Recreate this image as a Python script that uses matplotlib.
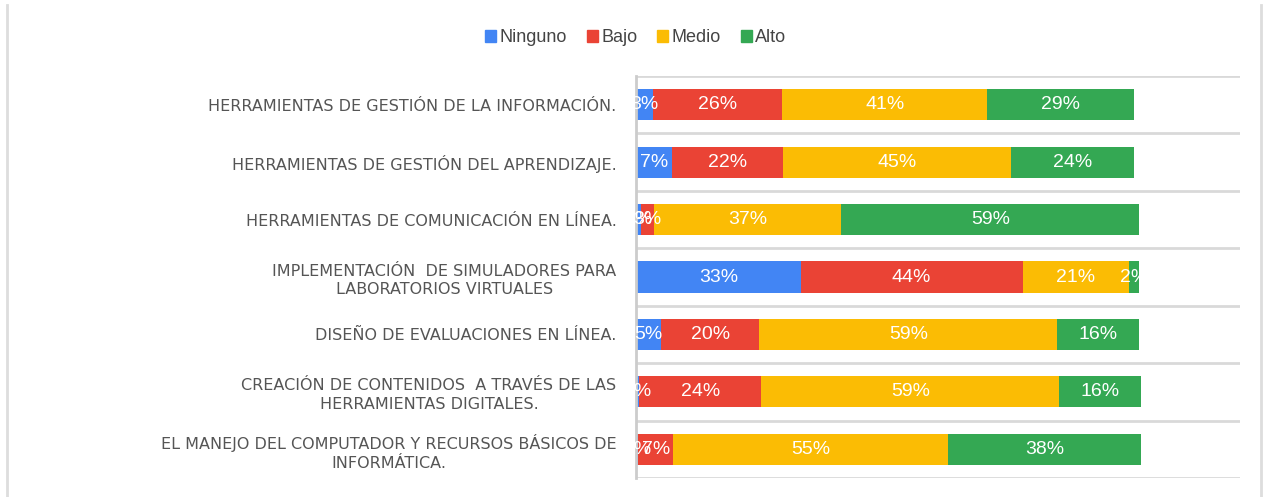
import matplotlib
matplotlib.use("Agg")
from matplotlib import pyplot as plt
from matplotlib.lines import Line2D
from matplotlib.patches import Patch
import numpy as np

categories = [
    "HERRAMIENTAS DE GESTIÓN DE LA INFORMACIÓN.",
    "HERRAMIENTAS DE GESTIÓN DEL APRENDIZAJE.",
    "HERRAMIENTAS DE COMUNICACIÓN EN LÍNEA.",
    "IMPLEMENTACIÓN  DE SIMULADORES PARA\nLABORATORIOS VIRTUALES",
    "DISEÑO DE EVALUACIONES EN LÍNEA.",
    "CREACIÓN DE CONTENIDOS  A TRAVÉS DE LAS\nHERRAMIENTAS DIGITALES.",
    "EL MANEJO DEL COMPUTADOR Y RECURSOS BÁSICOS DE\nINFORMÁTICA.",
]
series = ["Ninguno", "Bajo", "Medio", "Alto"]
ninguno = [3.4, 7.1, 1.0, 32.7, 5.0, 0.6, 0.4]
bajo = [25.6, 22.1, 2.6, 44.1, 19.5, 24.3, 7.0]
medio = [40.8, 45.4, 37.2, 21.1, 59.2, 59.2, 54.6]
alto = [29.1, 24.3, 59.2, 2.1, 16.3, 16.3, 38.4]
colors = ["#4285F4", "#EA4335", "#FBBC04", "#34A853"]

fig = plt.figure(figsize=(12.64, 4.97), dpi=100)
ax = fig.add_axes([636 / 1264, 1 - 478 / 497, (1240 - 636) / 1264, (478 - 76) / 497])

y = np.arange(len(categories))
left = np.zeros(len(categories))
for name, vals, col in zip(series, [ninguno, bajo, medio, alto], colors):
    bars = ax.barh(y, vals, left=left, height=0.54, color=col, label=name)
    labels = ax.bar_label(bars, labels=[f"{round(v)}%" for v in vals],
                          label_type="center", color="white",
                          family="Liberation Sans", fontsize=14)
    for t in labels:
        t.set_clip_on(True)
    left += np.array(vals)

ax.set_xlim(0, 120)
ax.set_ylim(len(categories) - 0.5, -0.5)
ax.set_xticks([])
ax.set_yticks(y)
ax.set_yticklabels(categories, fontsize=11.5, color="#555555",
                   family="DejaVu Sans", multialignment="center",
                   linespacing=1.3)
ax.tick_params(axis="y", length=0, pad=14)
ax.set_yticks(np.arange(-0.5, len(categories)), minor=True)
ax.tick_params(axis="y", which="minor", length=0)
ax.grid(axis="y", which="minor", color="#d9d9d9", linewidth=2)
ax.set_axisbelow(True)
for s in ["top", "right", "bottom"]:
    ax.spines[s].set_visible(False)
ax.spines["left"].set_color("#cccccc")
ax.spines["left"].set_linewidth(2)

handles = [Patch(color=c) for c in colors]
fig.legend(handles, series, loc="center", bbox_to_anchor=(0.503, 0.924),
           ncol=4, frameon=False, handlelength=0.6, handleheight=0.6,
           handletextpad=0.2, columnspacing=1.1,
           prop={"family": "Liberation Sans", "size": 13},
           labelcolor="#444444")

# light frame around the chart
fig.add_artist(Line2D([7 / 1264, 7 / 1264], [0, 1 - 5 / 497], color="#dddddd", lw=2))
fig.add_artist(Line2D([1261 / 1264, 1261 / 1264], [0, 1 - 5 / 497], color="#dddddd", lw=2))

fig.savefig("out.png", dpi=100)
